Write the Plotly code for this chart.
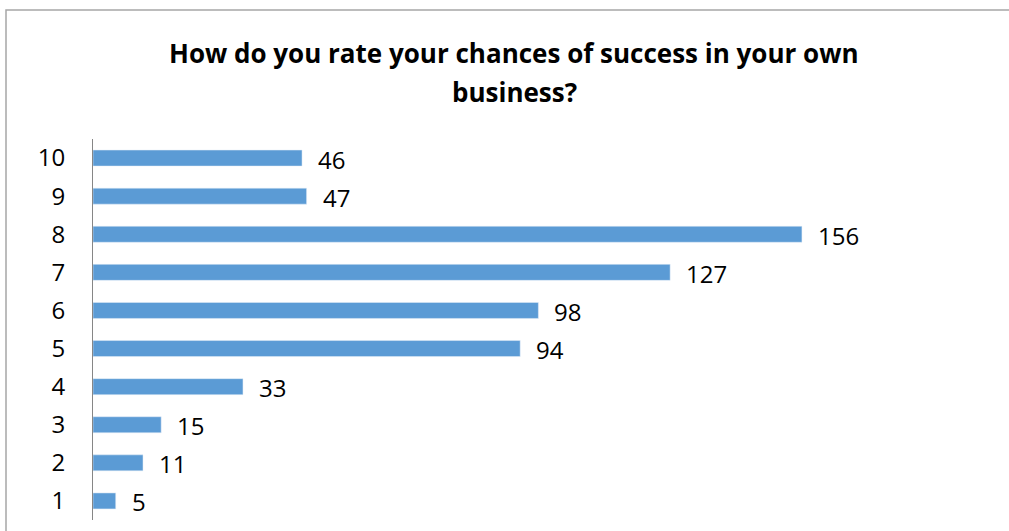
import plotly.graph_objects as go

categories = ["1", "2", "3", "4", "5", "6", "7", "8", "9", "10"]
values = [5, 11, 15, 33, 94, 98, 127, 156, 47, 46]
title_lines = ["How do you rate your chances of success in your own", "business?"]

W, H = 1009, 531
L, R, T, B = 93, 98, 139, 11
pw, ph = W - L - R, H - T - B

fig = go.Figure()
fig.add_trace(go.Bar(
    y=categories, x=values, orientation="h",
    marker=dict(color="#5B9BD5"),
    width=0.42,
    hoverinfo="skip",
))

for i, v in enumerate(values):
    fig.add_annotation(x=v, y=i, text=str(v), showarrow=False,
                       xanchor="left", xshift=14, yshift=-1,
                       font=dict(family="Open Sans", size=24, color="#000000"))

for line, ypx in zip(title_lines, [53, 92]):
    fig.add_annotation(xref="paper", yref="paper", x=(514 - L) / pw, y=1 + (T - ypx) / ph,
                       text=line, showarrow=False, xanchor="center", yanchor="middle",
                       font=dict(family="Open Sans", size=26, color="#000000", weight="bold"))

fig.add_shape(type="rect", xref="paper", yref="paper",
              x0=(6 - L) / pw, x1=1.3, y0=-0.2, y1=1 + (T - 10) / ph,
              line=dict(color="#A6A6A6", width=1.5), fillcolor="rgba(0,0,0,0)", layer="below")

fig.update_layout(
    width=W, height=H,
    margin=dict(l=L, r=R, t=T, b=B),
    paper_bgcolor="white", plot_bgcolor="white",
    showlegend=False,
    xaxis=dict(range=[0, 180], visible=False, fixedrange=True),
    yaxis=dict(type="category", categoryorder="array", categoryarray=categories,
               range=[-0.5, 9.5], autorange=False,
               showline=True, linecolor="#868686", linewidth=1,
               ticks="", showgrid=False, zeroline=False,
               ticklabelstandoff=22,
               tickfont=dict(family="Open Sans", size=24, color="#000000")),
)

fig.write_html("out.html")
